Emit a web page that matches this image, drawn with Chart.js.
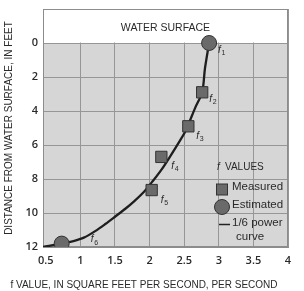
<!DOCTYPE html>
<html>
<head>
<meta charset="utf-8">
<script src="https://cdn.jsdelivr.net/npm/chart.js@4"></script>
<style>
  html, body { margin: 0; padding: 0; background: #fff; }
  #wrap { width: 304px; height: 291px; }
</style>
</head>
<body>
<div id="wrap"><canvas id="fChart"></canvas></div>
<script>
// Data
const curveF = [2.86, 2.80, 2.76, 2.66, 2.59, 2.53, 2.43, 2.30, 2.18, 2.05, 1.92, 1.78, 1.65, 1.50, 1.36, 1.22, 1.05, 0.90, 0.73, 0.46];
const curveDepth = [0, 1.5, 2.9, 3.8, 4.5, 5.1, 5.8, 6.65, 7.4, 8.1, 8.75, 9.3, 9.75, 10.22, 10.65, 11.05, 11.45, 11.65, 11.8, 12.0];
const measuredF = [2.76, 2.56, 2.17, 2.03];
const measuredDepth = [2.9, 4.9, 6.7, 8.65];
const measuredNames = ['2', '3', '4', '5'];
const estimatedF = [2.86, 0.73];
const estimatedDepth = [0, 11.8];
const estimatedNames = ['1', '6'];
const xTicks = [0.5, 1, 1.5, 2, 2.5, 3, 3.5, 4];
const yTicks = [0, 2, 4, 6, 8, 10, 12];

const toXY = (xs, ys) => xs.map((x, i) => ({ x: x, y: ys[i] }));

const ink = '#2a2a2a';
const frame = '#8c8c8c';
const markFill = '#6a6a6a';

// label offsets for f1..f6, in pixels from the marker
const labelOffset = { '1': [11, 7], '2': [9, 7], '3': [10, 10], '4': [12, 9], '5': [11, 10], '6': [31, -4] };

function drawF(ctx, x, y, sub) {
  ctx.fillStyle = ink;
  ctx.textBaseline = 'middle';
  ctx.textAlign = 'left';
  ctx.font = 'italic 10px "Liberation Sans"';
  ctx.fillText('f', x - 2, y);
  ctx.font = '7px "Liberation Sans"';
  ctx.fillText(sub, x + 1.5, y + 3);
}

const decor = {
  id: 'decor',
  beforeDraw(chart) {
    const { ctx, chartArea: a, scales } = chart;
    const y0 = scales.y.getPixelForValue(0);
    ctx.save();
    ctx.fillStyle = '#d6d6d6';
    ctx.fillRect(a.left, y0, a.right - a.left, a.bottom - y0);
    ctx.restore();
  },
  beforeDatasetsDraw(chart) {
    const { ctx, chartArea: a, scales } = chart;
    const y0 = scales.y.getPixelForValue(0);
    ctx.save();
    ctx.fillStyle = '#ffffff';
    ctx.fillRect(a.left, a.top, a.right - a.left, y0 - a.top - 0.5);
    ctx.strokeStyle = frame;
    ctx.lineWidth = 1;
    ctx.strokeRect(a.left + 0.5, a.top + 0.5, a.right - a.left - 1, a.bottom - a.top - 1);
    ctx.fillStyle = ink;
    ctx.font = '10.5px "Liberation Sans"';
    ctx.textAlign = 'center';
    ctx.textBaseline = 'middle';
    ctx.fillText('WATER SURFACE', (a.left + a.right) / 2, (a.top + y0) / 2 + 2);
    ctx.restore();
  },
  afterDatasetsDraw(chart) {
    const { ctx } = chart;
    ctx.save();
    [[0, measuredNames], [1, estimatedNames]].forEach(([di, names]) => {
      chart.getDatasetMeta(di).data.forEach((pt, i) => {
        const off = labelOffset[names[i]];
        drawF(ctx, pt.x + off[0], pt.y + off[1], names[i]);
      });
    });

    // legend inside the plot
    const lx = 222;
    ctx.fillStyle = ink;
    ctx.textBaseline = 'middle';
    ctx.textAlign = 'left';
    ctx.font = 'italic 10px "Liberation Sans"';
    ctx.fillText('f', 217, 167);
    ctx.font = '10px "Liberation Sans"';
    ctx.fillText('VALUES', 225, 167);

    ctx.fillStyle = markFill;
    ctx.strokeStyle = '#333';
    ctx.lineWidth = 1;
    ctx.fillRect(lx - 5.5, 184, 11, 11);
    ctx.strokeRect(lx - 5.5, 184, 11, 11);
    ctx.beginPath();
    ctx.arc(lx, 207, 7.5, 0, Math.PI * 2);
    ctx.fill();
    ctx.stroke();
    ctx.strokeStyle = '#222';
    ctx.lineWidth = 1.5;
    ctx.beginPath();
    ctx.moveTo(219, 224.5);
    ctx.lineTo(230, 224.5);
    ctx.stroke();

    ctx.fillStyle = ink;
    ctx.font = '11.5px "Liberation Sans"';
    ctx.fillText('Measured', 232, 187);
    ctx.fillText('Estimated', 232, 205);
    ctx.fillText('1/6 power', 232, 223);
    ctx.fillText('curve', 236, 237);
    ctx.restore();
  }
};

new Chart(document.getElementById('fChart'), {
  type: 'scatter',
  data: {
    datasets: [
      {
        label: 'Measured',
        data: toXY(measuredF, measuredDepth),
        pointStyle: 'rect',
        pointRadius: 8,
        backgroundColor: markFill,
        borderColor: '#333',
        borderWidth: 1,
      },
      {
        label: 'Estimated',
        data: toXY(estimatedF, estimatedDepth),
        pointStyle: 'circle',
        pointRadius: 7.5,
        backgroundColor: markFill,
        borderColor: '#333',
        borderWidth: 1,
      },
      {
        label: '1/6 power curve',
        data: toXY(curveF, curveDepth),
        showLine: true,
        tension: 0.3,
        pointRadius: 0,
        borderColor: '#1e1e1e',
        borderWidth: 2.3,
      },
    ],
  },
  options: {
    responsive: true,
    maintainAspectRatio: false,
    animation: false,
    layout: { padding: { top: 0, right: 16, left: 0, bottom: 0 } },
    plugins: {
      legend: { display: false },
      tooltip: { enabled: false },
      title: {
        display: true,
        position: 'bottom',
        text: 'f VALUE, IN SQUARE FEET PER SECOND, PER SECOND',
        color: ink,
        font: { family: 'Liberation Sans', size: 10, weight: 'normal' },
        padding: { top: 7, bottom: 0 },
      },
    },
    scales: {
      x: {
        min: 0.46,
        max: 4,
        afterBuildTicks: (s) => { s.ticks = xTicks.map((v) => ({ value: v })); },
        afterFit: (s) => { s.height = 25; s.paddingLeft = 0; s.paddingRight = 0; },
        ticks: {
          color: ink,
          padding: 7,
          font: { family: 'Open Sans', size: 11, weight: '600' },
          callback: (v) => String(v),
        },
        grid: {
          drawTicks: false,
          color: (c) => (c.tick && c.tick.value === 0.5 ? 'rgba(0,0,0,0)' : '#969696'),
        },
        border: { color: frame },
      },
      y: {
        reverse: true,
        min: -2,
        max: 12,
        afterBuildTicks: (s) => { s.ticks = yTicks.map((v) => ({ value: v })); },
        afterFit: (s) => { s.width = 43; s.paddingTop = 0; s.paddingBottom = 0; },
        ticks: {
          color: ink,
          padding: 5,
          font: { family: 'Open Sans', size: 11, weight: '600' },
        },
        grid: { drawTicks: false, color: '#969696' },
        border: { color: frame },
        title: {
          display: true,
          text: 'DISTANCE FROM WATER SURFACE, IN FEET',
          color: ink,
          font: { family: 'Liberation Sans', size: 10, weight: 'normal' },
          padding: { top: 3, bottom: 0 },
        },
      },
    },
  },
  plugins: [decor],
});
</script>
</body>
</html>
